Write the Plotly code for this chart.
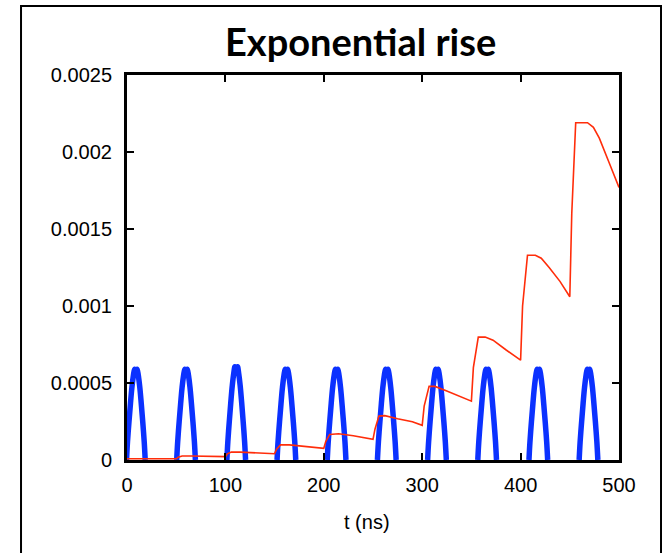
import plotly.graph_objects as go

# Gate pulses (blue): centre times (ns) and peak heights
pulse_centers = [9, 60, 111, 162, 213, 264, 315, 366, 418, 469]
pulse_peaks = [0.00059, 0.00059, 0.000605, 0.00059, 0.00059, 0.00059, 0.00059, 0.00059, 0.00059, 0.00059]
# One pulse profile: offsets from the centre (ns) and relative height
pulse_offsets = [-9.5, -8.5, -7, -5.5, -4, -2.5, -1.3, 0, 1.3, 2.5, 4, 5.5, 7, 8.5, 9.5]
pulse_profile = [0, 0.2, 0.42, 0.62, 0.8, 0.93, 1.0, 0.965, 1.0, 0.93, 0.8, 0.62, 0.42, 0.2, 0]

# Response (red): time (ns) and amplitude
resp_t = [0, 50,
          52, 56, 65, 80, 100,
          102, 106, 115, 130, 150,
          152, 156, 165, 180, 200,
          202, 206, 215, 230, 250,
          252, 256, 262, 275, 290, 300,
          302, 307, 313, 325, 340, 350,
          352, 357, 364, 372, 385, 400,
          402, 407, 415, 421, 429, 440, 450,
          452, 456, 468, 474, 480, 490, 500]
resp_v = [0.000008, 0.000008,
          0.000018, 0.000026, 0.000026, 0.000024, 0.000022,
          0.00004, 0.000052, 0.000051, 0.000047, 0.000041,
          0.00007, 0.000098, 0.000098, 0.000088, 0.000076,
          0.00012, 0.000166, 0.00017, 0.000158, 0.000134,
          0.0002, 0.000285, 0.000288, 0.000268, 0.000248, 0.000225,
          0.00035, 0.000479, 0.000478, 0.000448, 0.000408, 0.000382,
          0.0006, 0.000798, 0.000798, 0.000778, 0.000716, 0.000648,
          0.001, 0.00133, 0.00133, 0.00131, 0.00125, 0.00116, 0.00106,
          0.0016, 0.00219, 0.00219, 0.00216, 0.00209, 0.00193, 0.00177]

x_ticks = [0, 100, 200, 300, 400, 500]
y_ticks = [0, 0.0005, 0.001, 0.0015, 0.002, 0.0025]
y_labels = ["0", "0.0005", "0.001", "0.0015", "0.002", "0.0025"]

# Build the pulse train, with gaps between pulses
bx, by = [], []
for c, a in zip(pulse_centers, pulse_peaks):
    bx += [c + o for o in pulse_offsets] + [None]
    by += [a * p for p in pulse_profile] + [None]

fig = go.Figure()
fig.add_trace(go.Scatter(x=bx, y=by, mode="lines",
                         line=dict(color="#0b31ff", width=5.5, shape="spline", smoothing=1),
                         connectgaps=False, showlegend=False))
fig.add_trace(go.Scatter(x=resp_t, y=resp_v, mode="lines",
                         line=dict(color="#ff2d0a", width=1.6),
                         showlegend=False))

tick_font = dict(family="Liberation Sans", size=20, color="black")
axis_common = dict(showline=True, linecolor="black", linewidth=3, mirror="ticks",
                   ticks="inside", ticklen=7, tickwidth=2, tickcolor="black",
                   showgrid=False, zeroline=False, tickfont=tick_font)

fig.update_xaxes(range=[0, 500], tickvals=x_ticks, ticktext=[str(v) for v in x_ticks],
                 ticklabelstandoff=5, **axis_common)
fig.update_yaxes(range=[0, 0.0025], tickvals=y_ticks, ticktext=y_labels,
                 ticklabelstandoff=8, **axis_common)

fig.add_annotation(text="<b>Exponential rise</b>", xref="paper", yref="paper",
                   x=0.474, y=1.088, xanchor="center", yanchor="middle", showarrow=False,
                   font=dict(family="Lato", size=38, color="black"))
fig.add_annotation(text="t (ns)", xref="paper", yref="paper",
                   x=0.488, y=-0.161, xanchor="center", yanchor="middle", showarrow=False,
                   font=tick_font)

# Outer frame around the whole panel
fig.add_shape(type="rect", xref="paper", yref="paper",
              x0=-0.2154, x1=1.0854, y0=-0.26, y1=1.179,
              line=dict(color="black", width=2), layer="below")

fig.update_layout(width=662, height=553,
                  margin=dict(l=127, r=43, t=75, b=93),
                  plot_bgcolor="white", paper_bgcolor="white")

fig.write_html("out.html")
